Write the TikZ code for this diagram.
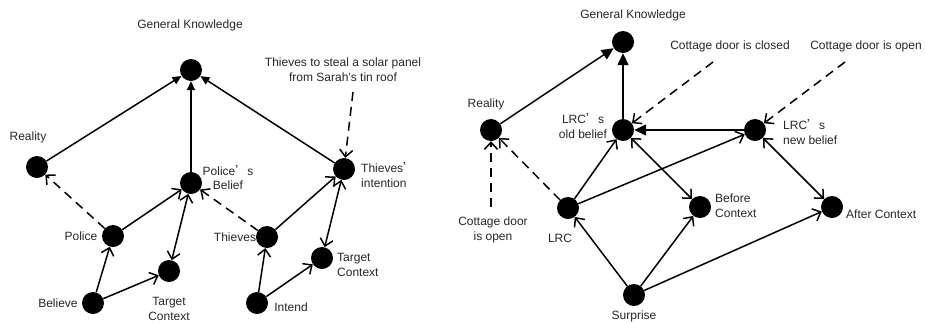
\documentclass[tikz,border=0pt]{standalone}
\usepackage{fontspec}
\setmainfont{Liberation Sans}
\newfontfamily\cjk{Noto Sans CJK SC}
\usetikzlibrary{arrows.meta}
\begin{document}
\begin{tikzpicture}[x=1pt,y=-1pt,
  dot/.style={circle,fill=black,inner sep=0pt,minimum size=22pt},
  lbl/.style={font=\fontsize{12}{14.8}\selectfont, inner sep=0pt, align=center, text=black!85},
  lbll/.style={lbl, align=left, anchor=west},
  edge/.style={line width=1.5pt, -{Straight Barb[length=7pt,width=13pt]}},
  both/.style={line width=1.5pt, {Straight Barb[length=7pt,width=13pt]}-{Straight Barb[length=7pt,width=13pt]}},
  dsh/.style={edge, dash pattern=on 9pt off 6pt},
  tri/.style={line width=1.5pt, -{Triangle[length=9pt,width=8pt]}},
  bigtri/.style={line width=1.5pt, -{Triangle[length=12pt,width=11pt]}},
]
\useasboundingbox (0,0) rectangle (925,322);

% ---------------- left diagram ----------------
\node[dot] (gkL) at (191,70) {};
\node[dot] (realL) at (37,167) {};
\node[dot] (pb) at (191,183) {};
\node[dot] (ti) at (344,169) {};
\node[dot] (police) at (113,236) {};
\node[dot] (thieves) at (267,237) {};
\node[dot] (believe) at (93,303) {};
\node[dot] (tcL) at (169,271) {};
\node[dot] (intend) at (257,303) {};
\node[dot] (tcR) at (322,258) {};

\node[lbl] (tgkL) at (190,25) {General Knowledge};
\node[lbl] (trealL) at (28,137) {Reality};
\node[lbl] (tpb) at (228,177.5) {Police{\cjk ’}s\\Belief};
\node[lbll] (tti) at (361,175) {Thieves{\cjk ’}\\intention};
\node[lbl] (tpolice) at (81,236) {Police};
\node[lbl] (tthieves) at (235,237) {Thieves};
\node[lbl] (tbelieve) at (58,303) {Believe};
\node[lbl] (ttcL) at (169,309) {Target\\Context};
\node[lbl] (tintend) at (291,307) {Intend};
\node[lbll] (ttcR) at (337,265) {Target\\Context};
\node[lbl] (annL) at (343,70) {Thieves to steal a solar panel\\from Sarah’s tin roof};
\coordinate (annLs) at (353,92);

\draw[tri] (realL) -- (gkL);
\draw[tri] (pb) -- (gkL);
\draw[tri] (ti) -- (gkL);
\draw[dsh] (police) -- (realL);
\draw[edge] (police) -- (pb);
\draw[edge] (believe) -- (police);
\draw[edge] (believe) -- (tcL);
\draw[both] (tcL) -- (pb);
\draw[dsh] (thieves) -- (pb);
\draw[edge] (thieves) -- (ti);
\draw[edge] (intend) -- (thieves);
\draw[edge] (intend) -- (tcR);
\draw[both] (tcR) -- (ti);
\draw[dsh] (annLs) -- (ti);

% ---------------- right diagram ----------------
\node[dot] (gkR) at (623,42) {};
\node[dot] (realR) at (491,130) {};
\node[dot] (ob) at (623,130) {};
\node[dot] (nb) at (755,130) {};
\node[dot] (lrc) at (568,208) {};
\node[dot] (bc) at (700,207) {};
\node[dot] (ac) at (832,207) {};
\node[dot] (surp) at (634,295) {};

\node[lbl] (tgkR) at (633,15) {General Knowledge};
\node[lbl] (trealR) at (486,104) {Reality};
\node[lbl] (tob) at (583,126) {LRC{\cjk ’}s\\old belief};
\node[lbll] (tnb) at (783,132) {LRC{\cjk ’}s\\new belief};
\node[lbl] (closed) at (730,46) {Cottage door is closed};
\node[lbl] (open) at (866,46) {Cottage door is open};
\node[lbl] (isopen) at (493,229.5) {Cottage door\\is open};
\node[lbl] (tlrc) at (560,238) {LRC};
\node[lbl] (tsurp) at (634,316) {Surprise};
\node[lbll] (tbc) at (715,206) {Before\\Context};
\node[lbll] (tac) at (846,214) {After Context};
\coordinate (closeds) at (713,62);
\coordinate (opens) at (845,62);
\coordinate (isopens) at (491,207);

\draw[bigtri] (realR) -- (gkR);
\draw[bigtri] (ob) -- (gkR);
\draw[bigtri] (nb) -- (ob);
\draw[dsh] (lrc) -- (realR);
\draw[edge] (lrc) -- (ob);
\draw[edge] (lrc) -- (nb);
\draw[both] (ob) -- (bc);
\draw[both] (nb) -- (ac);
\draw[edge] (surp) -- (lrc);
\draw[edge] (surp) -- (bc);
\draw[edge] (surp) -- (ac);
\draw[dsh] (closeds) -- (ob);
\draw[dsh] (opens) -- (nb);
\draw[dsh] (isopens) -- (realR);
\end{tikzpicture}
\end{document}
